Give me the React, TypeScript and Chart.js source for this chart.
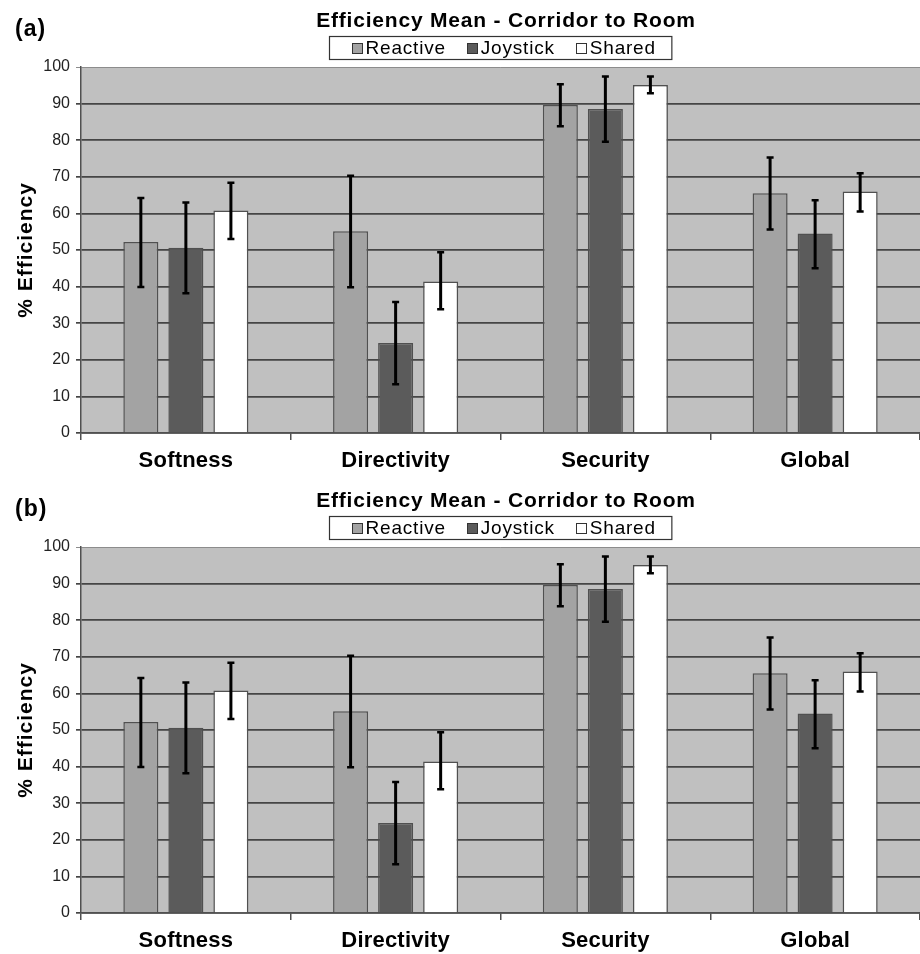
import React, { useEffect, useRef } from 'react';
import { Chart, registerables } from 'chart.js';

Chart.register(...registerables);

// ---- data ----
const categories = ['Softness', 'Directivity', 'Security', 'Global'];
const seriesNames = ['Reactive', 'Joystick', 'Shared'];

const reactiveMean = [52.2, 55.1, 89.6, 65.5];
const reactiveLow = [39.9, 39.8, 83.8, 55.6];
const reactiveHigh = [64.2, 70.3, 95.3, 75.3];

const joystickMean = [50.6, 24.6, 88.5, 54.5];
const joystickLow = [38.2, 13.3, 79.6, 45.0];
const joystickHigh = [63.0, 35.8, 97.4, 63.6];

const sharedMean = [60.8, 41.4, 95.1, 66.0];
const sharedLow = [53.0, 33.8, 92.8, 60.5];
const sharedHigh = [68.4, 49.4, 97.4, 71.0];

const yMin = 0;
const yMax = 100;
const yStep = 10;

const chartTitle = 'Efficiency Mean - Corridor to Room';
const yAxisTitle = '% Efficiency';
const panelLabels = ['(a)', '(b)'];

// ---- styles ----
const seriesColors = ['#a3a3a3', '#5b5b5b', '#ffffff'];
const FONT = '"Liberation Sans", Arial, Helvetica, sans-serif';

const means = [reactiveMean, joystickMean, sharedMean];
const lows = [reactiveLow, joystickLow, sharedLow];
const highs = [reactiveHigh, joystickHigh, sharedHigh];

const decorPlugin = {
  id: 'decor',
  beforeDraw(chart: any) {
    const { ctx, chartArea: a } = chart;
    ctx.save();
    ctx.fillStyle = '#ffffff';
    ctx.fillRect(0, 0, chart.width, chart.height);
    ctx.fillStyle = '#c0c0c0';
    ctx.fillRect(a.left, a.top, a.right - a.left, a.bottom - a.top);
    ctx.restore();
  },
  afterDatasetsDraw(chart: any) {
    const { ctx } = chart;
    const yScale = chart.scales.y;
    ctx.save();
    ctx.strokeStyle = '#000000';
    for (let i = 0; i < chart.data.datasets.length; i++) {
      const meta = chart.getDatasetMeta(i);
      meta.data.forEach((el: any, j: number) => {
        const x = el.x;
        const yh = yScale.getPixelForValue(highs[i][j]);
        const yl = yScale.getPixelForValue(lows[i][j]);
        ctx.lineWidth = 3;
        ctx.beginPath();
        ctx.moveTo(x, yh);
        ctx.lineTo(x, yl);
        ctx.stroke();
        ctx.lineWidth = 2.5;
        ctx.beginPath();
        ctx.moveTo(x - 3.5, yh);
        ctx.lineTo(x + 3.5, yh);
        ctx.moveTo(x - 3.5, yl);
        ctx.lineTo(x + 3.5, yl);
        ctx.stroke();
      });
    }
    ctx.restore();
  },
  afterDraw(chart: any) {
    const { ctx, chartArea: a } = chart;
    const opts = chart.options.plugins.decor || {};
    ctx.save();
    ctx.fillStyle = '#000000';
    ctx.textBaseline = 'alphabetic';

    // panel label
    ctx.font = `bold 23px ${FONT}`;
    (ctx as any).letterSpacing = '1px';
    ctx.textAlign = 'left';
    ctx.fillText(opts.label || '', 15, 36);

    // title
    ctx.font = `bold 21px ${FONT}`;
    (ctx as any).letterSpacing = '0.8px';
    ctx.textAlign = 'center';
    ctx.fillText(chartTitle, 506, 27);

    // legend
    ctx.font = `19px ${FONT}`;
    (ctx as any).letterSpacing = '0.8px';
    ctx.textAlign = 'left';
    const labels = chart.data.datasets.map((d: any) => d.label);
    const widths = labels.map((l: string) => ctx.measureText(l).width);
    const sq = 10, gapSq = 4, gapItem = 21, padL = 22, padR = 16;
    let total = padL + padR + gapItem * (labels.length - 1);
    widths.forEach((w: number) => (total += sq + gapSq + w));
    const bx = Math.round(500 - total / 2) + 0.5;
    const by = 36.5;
    ctx.fillStyle = '#ffffff';
    ctx.fillRect(bx, by, total, 23);
    ctx.strokeStyle = '#333333';
    ctx.lineWidth = 1.2;
    ctx.strokeRect(bx, by, total, 23);
    let x = bx + padL;
    labels.forEach((l: string, i: number) => {
      ctx.fillStyle = chart.data.datasets[i].backgroundColor;
      ctx.fillRect(Math.round(x) + 0.5, 43.5, sq, sq);
      ctx.strokeStyle = '#333333';
      ctx.lineWidth = 1;
      ctx.strokeRect(Math.round(x) + 0.5, 43.5, sq, sq);
      x += sq + gapSq;
      ctx.fillStyle = '#000000';
      ctx.fillText(l, x, 54);
      x += widths[i] + gapItem;
    });

    // y axis title
    ctx.save();
    ctx.font = `bold 21px ${FONT}`;
    (ctx as any).letterSpacing = '1px';
    ctx.textAlign = 'center';
    ctx.textBaseline = 'middle';
    ctx.translate(26, (a.top + a.bottom) / 2);
    ctx.rotate(-Math.PI / 2);
    ctx.fillStyle = '#000000';
    ctx.fillText(yAxisTitle, 0, 0);
    ctx.restore();

    // x category labels, placed through the x scale
    const xs = chart.scales.x;
    ctx.font = `bold 22px ${FONT}`;
    (ctx as any).letterSpacing = '0.2px';
    ctx.textAlign = 'center';
    ctx.fillStyle = '#000000';
    categories.forEach((c, i) => {
      ctx.fillText(c, xs.getPixelForTick(i), a.bottom + 34);
    });
    (ctx as any).letterSpacing = '0px';
    ctx.restore();
  },
};

function Panel({ label, height }: { label: string; height: number }) {
  const ref = useRef<HTMLCanvasElement | null>(null);
  useEffect(() => {
    if (!ref.current) return;
    const chart = new Chart(ref.current, {
      type: 'bar',
      data: {
        labels: categories,
        datasets: seriesNames.map((name, i) => ({
          label: name,
          data: means[i],
          backgroundColor: seriesColors[i],
          borderColor: '#505050',
          borderWidth: 1.5,
          categoryPercentage: 0.644,
          barPercentage: 0.778,
        })),
      },
      options: {
        responsive: false,
        animation: false,
        devicePixelRatio: 1,
        layout: { padding: { top: 67, left: 0, right: 0, bottom: height - 433 - 40 } },
        plugins: {
          legend: { display: false },
          title: { display: false },
          tooltip: { enabled: false },
          decor: { label },
        } as any,
        scales: {
          x: {
            ticks: { display: false },
            grid: {
              display: true,
              drawOnChartArea: false,
              drawTicks: true,
              tickLength: 7,
              color: '#505050',
              lineWidth: 1.5,
            },
            border: { display: true, color: '#505050', width: 1.5 },
            afterFit: (s: any) => {
              s.height = 40;
            },
          },
          y: {
            min: yMin,
            max: yMax,
            ticks: {
              stepSize: yStep,
              padding: 6,
              color: '#222222',
              font: { family: FONT, size: 16 },
            },
            grid: {
              color: (c: any) => (c.tick && c.tick.value === yMax ? '#8c8c8c' : '#454545'),
              lineWidth: (c: any) => (c.tick && c.tick.value === yMax ? 1 : 1.7),
              tickLength: 5,
            },
            border: { display: true, color: '#505050', width: 1.5 },
            afterFit: (s: any) => {
              s.width = 81;
            },
          },
        },
      },
      plugins: [decorPlugin],
    } as any);
    return () => chart.destroy();
  }, [label, height]);
  return <canvas ref={ref} width={920} height={height} style={{ display: 'block' }} />;
}

export default function App() {
  return (
    <div style={{ position: 'absolute', left: 0, top: 0, width: 920, height: 954, background: '#fff' }}>
      <Panel label={panelLabels[0]} height={480} />
      <Panel label={panelLabels[1]} height={474} />
    </div>
  );
}
